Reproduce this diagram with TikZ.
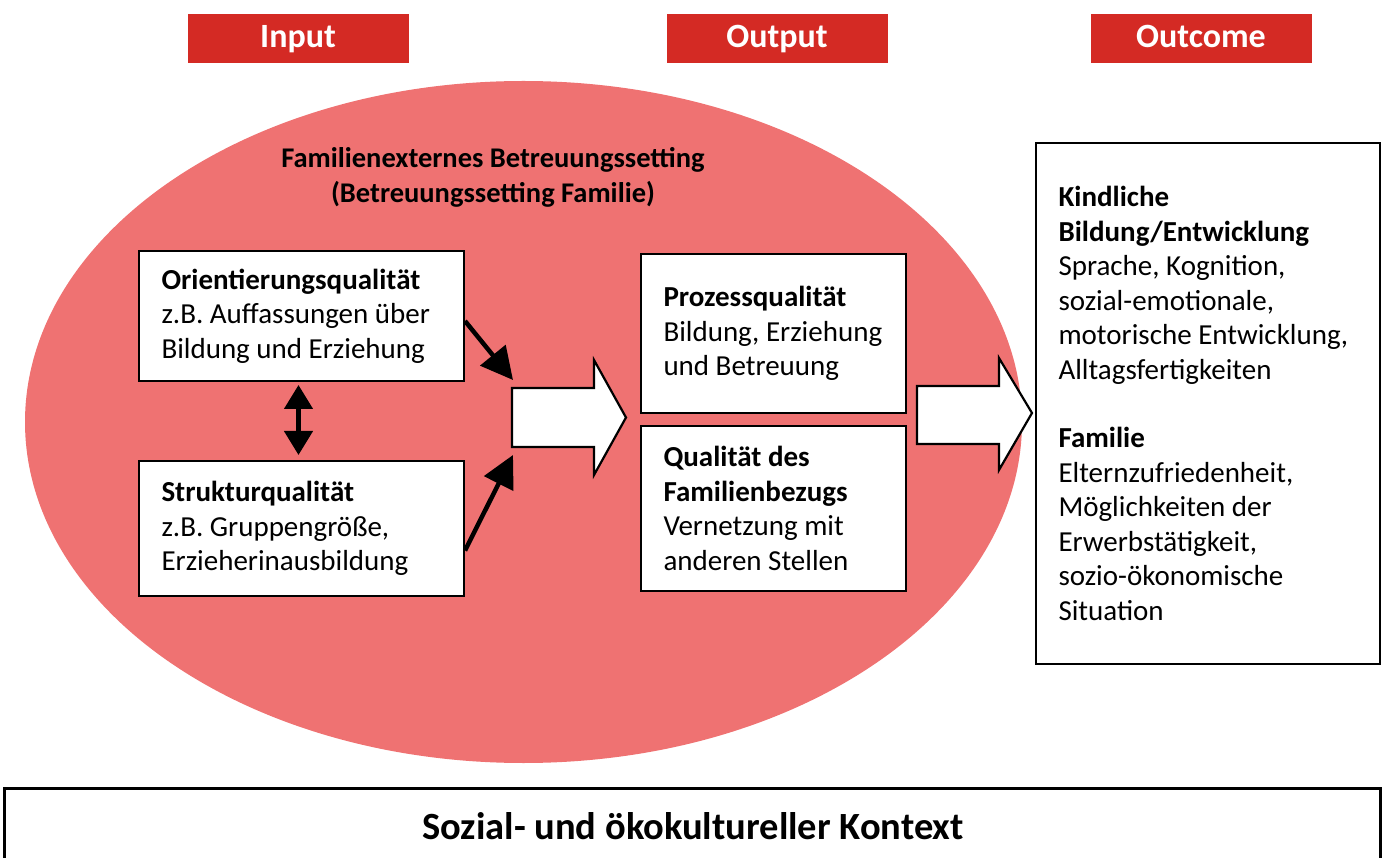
\documentclass[tikz,border=0pt]{standalone}
\usepackage{fontspec}
\setmainfont{Carlito}
\usetikzlibrary{arrows.meta}
\definecolor{hdred}{RGB}{212,42,36}
\definecolor{ellred}{RGB}{239,114,114}
\begin{document}
\begin{tikzpicture}[x=1pt,y=-1pt,
  hdr/.style={fill=hdred,text=white,font=\fontsize{34}{36}\selectfont\bfseries,minimum width=221pt,minimum height=49pt,inner sep=0pt,text height=23pt,text depth=5pt},
  qbox/.style={draw=black,line width=2pt,fill=white,font=\fontsize{29}{34.5}\selectfont,align=flush left,inner xsep=22pt,inner ysep=0pt,anchor=north west},
  bigarrow/.style={draw=black,line width=2.2pt,fill=white,line join=miter},
  blk/.style={line width=4.5pt,-{Triangle[length=32pt,width=32pt]}},
  dbl/.style={line width=4.5pt,{Triangle[length=24pt,width=28pt]}-{Triangle[length=24pt,width=28pt]}}]
\useasboundingbox (0,0) rectangle (1385,858);
% headers
\node[hdr] (hin) at (298,38.5) {Input};
\node[hdr] (hout) at (777,38.5) {Output};
\node[hdr] (hoc) at (1201,38.5) {Outcome};
% ellipse
\fill[ellred] (523.5,422) ellipse [x radius=498.5, y radius=341];
\node[font=\fontsize{28.5}{35}\selectfont\bfseries,align=center] (title) at (493,177) {Familienexternes Betreuungssetting\\(Betreuungssetting Familie)};
% left boxes
\node[qbox,minimum width=325pt,minimum height=130pt,text width=280pt] (ori) at (138,250)
 {\textbf{Orientierungsqualität}\\z.B. Auffassungen über\\Bildung und Erziehung};
\node[qbox,minimum width=325pt,minimum height=135pt,text width=280pt] (str) at (138,460)
 {\textbf{Strukturqualität}\\z.B. Gruppengröße,\\Erzieherinausbildung};
% middle boxes
\node[qbox,minimum width=265pt,minimum height=159pt,text width=220pt] (pro) at (640,253)
 {\textbf{Prozessqualität}\\\mbox{Bildung, Erziehung}\\und Betreuung};
\node[qbox,minimum width=265pt,minimum height=165pt,text width=220pt] (fam) at (640,425)
 {\textbf{Qualität des}\\\textbf{Familienbezugs}\\Vernetzung mit\\anderen Stellen};
% outcome box
\node[qbox,minimum width=344pt,minimum height=521pt,text width=299pt] (oc) at (1035,142)
 {\textbf{Kindliche}\\\textbf{Bildung/Entwicklung}\\Sprache, Kognition,\\sozial-emotionale,\\\mbox{motorische Entwicklung,}\\Alltagsfertigkeiten\\[34pt]\textbf{Familie}\\Elternzufriedenheit,\\Möglichkeiten der\\Erwerbstätigkeit,\\sozio-ökonomische\\Situation};
% big arrow 1
\coordinate (a1t) at (513,380);
\coordinate (a1b) at (513,455);
\draw[bigarrow] (512,388) -- (594,388) -- (594,360) -- (626,417.5) -- (594,475) -- (594,447) -- (512,447) -- cycle;
% big arrow 2
\draw[bigarrow] (917,386) -- (999,386) -- (999,358) -- (1032,413) -- (999,470) -- (999,444) -- (917,444) -- cycle;
% black arrows
\draw[blk] ([yshift=-5pt]ori.east) -- (a1t);
\draw[blk] ([yshift=-22pt]str.east) -- (a1b);
\draw[dbl] ([xshift=-3pt,yshift=-3pt]ori.south) -- ([xshift=-3pt,yshift=5pt]str.north);
% bottom box
\node[draw=black,line width=2.8pt,fill=white,minimum width=1376pt,minimum height=100pt,anchor=north west,inner sep=0pt] (ctx) at (3,787) {};
\node[font=\fontsize{38.5}{42}\selectfont\bfseries] (ctxt) at (693,826) {Sozial- und ökokultureller Kontext};
\end{tikzpicture}
\end{document}
